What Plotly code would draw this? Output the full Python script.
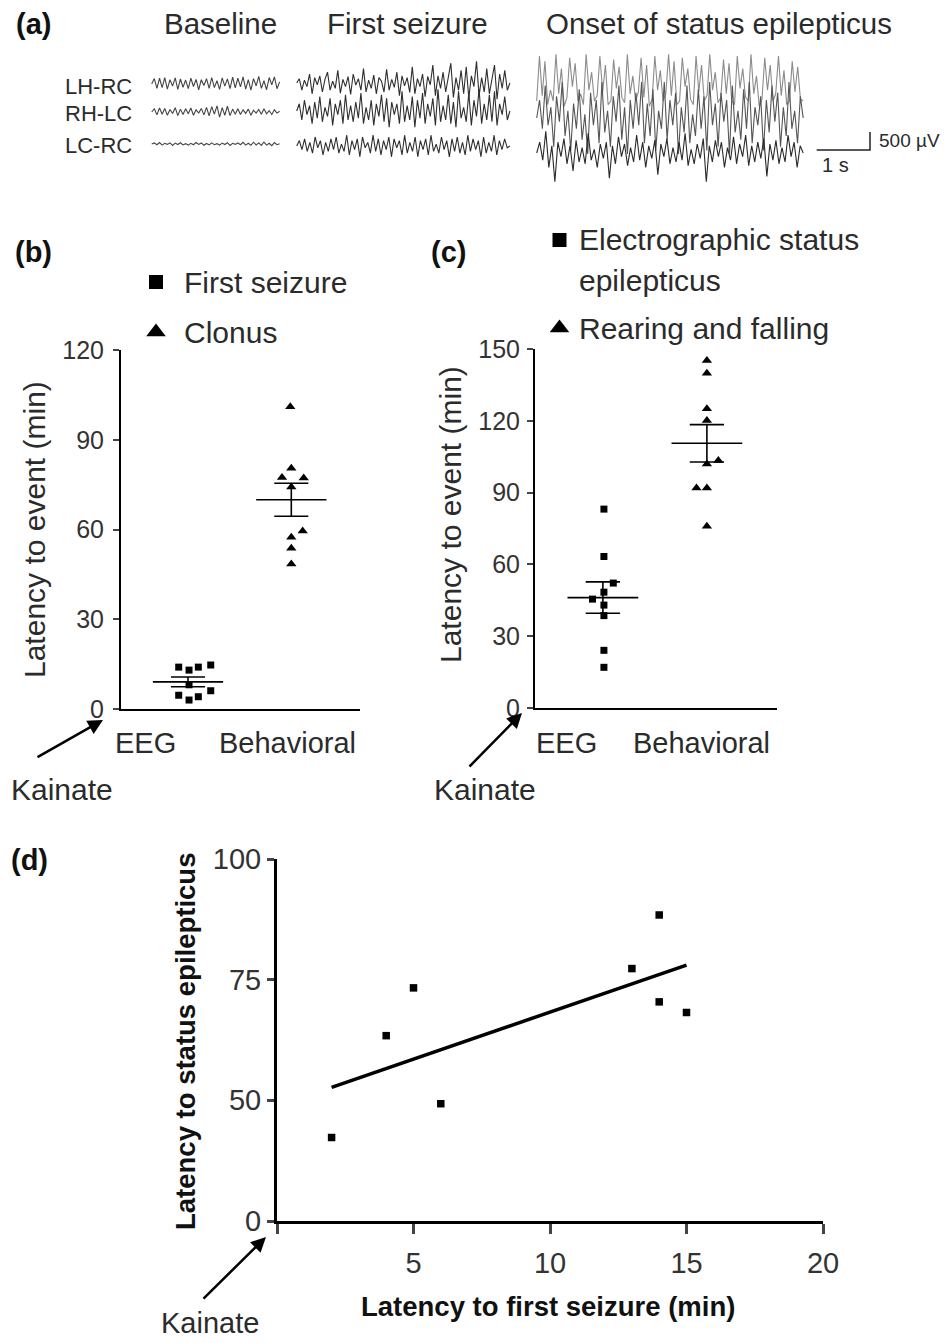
import numpy as np
import plotly.graph_objects as go

W, H = 949, 1343
FONT = "Liberation Sans, Arial, sans-serif"
TXT = "#2b2b2b"

# ---------------- Panel (a): EEG samples, microvolts ----------------
channels = ["LH-RC", "RH-LC", "LC-RC"]
segment_titles = ["Baseline", "First seizure", "Onset of status epilepticus"]

base_lhrc = [0, 150, -120, 160, -100, 180, -140, 120, -60, 170, -150, 140, -90, 110, -130, 160, -70, 130,
             -160, 120, -40, 150, -120, 180, -100, 90, -150, 170, -60, 140, -130, 190, -110, 160, -80, 200,
             -140, 120, -170, 150, -50, 210, -120, 90, -160, 180, -20, 200, -130, 60]
base_rhlc = [0, 90, -80, 110, -60, 100, -90, 70, -40, 120, -100, 80, -70, 90, -50, 110, -90, 60, -30, 100,
             -80, 130, -110, 150, -60, 170, -140, 120, -90, 160, -100, 80, -60, 90, -70, 60, -40, 80, -90, 50,
             -30, 70, -60, 90, -50, 40, -70, 60, -30, 20]
base_lcrc = [0, 30, -20, 40, -30, 20, -10, 30, -40, 25, -15, 35, -25, 10, -30, 20, -20, 40, -10, 30, -35, 15,
             -25, 30, -20, 10, -30, 25, -15, 35, -40, 20, -10, 30, -20, 45, -30, 20, -35, 50, -25, 30, -40, 55,
             -30, 20, -45, 40, -20, 10]

sz_lhrc = [0, 120, -200, 80, -100, 250, -300, 150, -50, 200, -250, 100, 300, -200, 50, -150, 350, -280, 100,
           -100, 180, -320, 250, -60, 120, -200, 400, -250, 80, -150, 220, -300, 150, 50, -250, 380, -200, 100,
           -120, 300, -350, 200, -80, 150, -260, 450, -300, 120, -100, 250, -380, 180, -50, 500, -350, 200,
           -150, 300, -250, 100, 550, -400, 150, -200, 350, -300, 450, -420, 200, -100, 600, -350, 150, -250,
           400, -300, 100, 500, -450, 250, -150, 350, -200, 0]
sz_rhlc = [0, 200, -250, 300, -100, 150, -350, 250, -200, 400, -300, 100, -150, 350, -400, 200, -100, 300,
           -350, 450, -250, 150, -300, 250, -200, 500, -350, 100, -250, 300, -400, 200, -150, 450, -300, 350,
           -450, 250, -100, 200, -350, 550, -300, 150, -250, 400, -450, 300, -200, 500, -350, 200, -150, 350,
           -400, 600, -300, 150, -250, 450, -350, 250, -450, 550, -200, 100, -300, 500, -400, 300, -150, 600,
           -350, 200, -250, 450, -300, 550, -400, 200, -100, 400, -250, 0]
sz_lcrc = [0, 150, -100, 200, -150, 100, -200, 250, -50, 150, -250, 100, -150, 200, -100, 250, -200, 50, -150,
           300, -250, 150, -100, 200, -300, 250, -50, 100, -200, 300, -150, 200, -250, 150, -100, 250, -300,
           200, -50, 150, -250, 300, -200, 100, -150, 250, -300, 150, -100, 200, -250, 300, -150, 50, -200,
           250, -100, 150, -300, 200, -150, 250, -200, 100, -250, 300, -150, 200, -100, 150, -300, 250, -200,
           100, -150, 300, -250, 150, -100, 200, -50, 0]

se_lhrc = [0, 1250, 150, 1100, -100, 300, 0, 1300, 200, 900, -150, 100, 1200, 400, 1050, 0, 200, -100, 1300,
           300, 800, 0, 150, 1250, 250, 1000, -100, 0, 1150, 350, 950, 100, -50, 1300, 200, 700, 0, 250, 1200,
           100, 1000, -150, 50, 1250, 300, 850, 0, 200, 1300, 150, 1100, -100, 0, 1200, 400, 900, 50, -100,
           1250, 250, 1000, 0, 150, 1300, 300, 800, -50, 100, 1150, 200, 1050, 0, -100, 1250, 350, 900, 100, 0,
           1300, 200, 700, -150, 50, 1200, 300, 1000, 0, 200, 1250, 150, 850, -100, 0, 1100, 250, 950, 50, 0]
se_rhlc = [0, 500, -300, 900, -200, 300, -800, 600, -100, 1000, -500, 200, -900, 400, -300, 800, -600, 100,
           -1000, 700, -200, 500, -700, 1000, -400, 200, -800, 600, -100, 900, -600, 300, -1000, 500, -300,
           700, -200, 1000, -700, 400, -500, 800, -900, 200, -300, 1000, -600, 500, -200, 700, -1000, 300,
           -400, 900, -700, 100, -500, 800, -300, 600, -900, 1000, -200, 400, -800, 700, -100, 500, -1000, 900,
           -400, 200, -600, 800, -300, 1000, -700, 300, -200, 600, -900, 500, -400, 900, -100, 700, -800, 300,
           -500, 1000, -300, 200, -700, 600, 0]
se_lcrc = [0, 300, -200, 600, -400, 200, -800, 300, -100, 400, -300, 200, -500, 350, -250, 150, -300, 550,
           -200, 100, -400, 250, -150, 300, -700, 200, -300, 450, -100, 250, -350, 150, -250, 500, -200, 300,
           -400, 200, -150, 350, -600, 250, -100, 400, -300, 150, -250, 300, -200, 550, -350, 100, -300, 250,
           -150, 400, -800, 200, -250, 350, -100, 300, -400, 150, -200, 450, -300, 250, -100, 500, -350, 200,
           -250, 300, -150, 400, -650, 250, -200, 350, -300, 150, -250, 500, -100, 300, -400, 200, 0]

# ---------------- Panel (b) ----------------
b_cats = ["EEG", "Behavioral"]
b_first_seizure = [14.0, 13.0, 14.0, 14.7, 8.1, 6.1, 4.6, 4.1, 3.0]
b_clonus = [101.0, 80.5, 77.4, 77.2, 74.2, 59.5, 57.4, 53.7, 48.5]
b_yticks = [0, 30, 60, 90, 120]

# ---------------- Panel (c) ----------------
c_cats = ["EEG", "Behavioral"]
c_status = [83.1, 63.3, 52.2, 48.4, 45.5, 43.0, 38.6, 24.1, 17.0]
c_rearing = [145.2, 139.9, 125.0, 120.1, 103.4, 102.0, 91.9, 91.9, 75.9]
c_yticks = [0, 30, 60, 90, 120, 150]

# ---------------- Panel (d) ----------------
d_first = [2, 4, 5, 6, 13, 14, 14, 15]
d_status = [42.3, 63.4, 73.3, 49.3, 77.3, 88.4, 70.4, 68.2]
d_xticks = [0, 5, 10, 15, 20]
d_xticktext = ["", "5", "10", "15", "20"]
d_yticks = [25, 50, 75, 100]
d_yticktext = ["0", "50", "75", "100"]

# column-scatter horizontal spread (GraphPad style arrangement)
b_sq_spread = [-0.09, 0.01, 0.10, 0.22, 0.01, 0.22, -0.09, 0.10, 0.01]
b_tri_spread = [-0.01, 0.0, -0.09, 0.12, 0.0, 0.11, 0.0, 0.0, 0.0]
c_sq_spread = [0.01, 0.01, 0.10, 0.01, -0.10, 0.01, 0.01, 0.01, 0.01]
c_tri_spread = [0.0, 0.0, 0.0, 0.0, 0.11, 0.0, -0.10, 0.0, 0.0]


def px(x):
    return x / W


def py(y):
    return 1 - y / H


fig = go.Figure()

# ---------- panel (a) traces ----------
PX_PER_S = 53.3
UV_PER_PX = 500 / 18.0


def row(ypx):
    return -(ypx - 40) * UV_PER_PX


segments = [
    (151.7 / PX_PER_S, 2.4, [base_lhrc, base_rhlc, base_lcrc], [84, 112, 144], ["#444444", "#444444", "#444444"]),
    (296.7 / PX_PER_S, 4.0, [sz_lhrc, sz_rhlc, sz_lcrc], [83, 111, 146], ["#2f2f2f", "#2f2f2f", "#2f2f2f"]),
    (536.7 / PX_PER_S, 5.0, [se_lhrc, se_rhlc, se_lcrc], [101, 118, 153], ["#8c8c8c", "#555555", "#2a2a2a"]),
]
for start, dur, traces, rows, cols in segments:
    for vals, r, col in zip(traces, rows, cols):
        t = np.linspace(start, start + dur, len(vals))
        fig.add_trace(go.Scatter(x=t, y=np.array(vals) + row(r), mode="lines",
                                 line=dict(color=col, width=1.1), xaxis="x4", yaxis="y4",
                                 showlegend=False, hoverinfo="skip"))
# scale bar 1 s / 500 uV
sb_x0 = 816.7 / PX_PER_S
fig.add_trace(go.Scatter(x=[sb_x0, sb_x0 + 1, sb_x0 + 1], y=[row(150), row(150), row(150) + 500],
                         mode="lines", line=dict(color="#222", width=1.5), xaxis="x4", yaxis="y4",
                         showlegend=False, hoverinfo="skip"))


# ---------- column scatter panels ----------
def column_panel(xa, ya, sq, tri, sq_spread, tri_spread):
    fig.add_trace(go.Scatter(x=[0 + s for s in sq_spread], y=sq, mode="markers",
                             marker=dict(symbol="square", size=7, color="black"),
                             xaxis=xa, yaxis=ya, showlegend=False))
    fig.add_trace(go.Scatter(x=[1 + s for s in tri_spread], y=tri, mode="markers",
                             marker=dict(symbol="triangle-up", size=9, color="black"),
                             xaxis=xa, yaxis=ya, showlegend=False))
    for cx, vals in ((0, sq), (1, tri)):
        a = np.array(vals)
        m = a.mean()
        se = a.std(ddof=1) / np.sqrt(len(a))
        for xs, ys in (([cx - 0.34, cx + 0.34], [m, m]),
                       ([cx - 0.165, cx + 0.165], [m + se, m + se]),
                       ([cx - 0.165, cx + 0.165], [m - se, m - se]),
                       ([cx, cx], [m - se, m + se])):
            fig.add_trace(go.Scatter(x=xs, y=ys, mode="lines", line=dict(color="black", width=1.6),
                                     xaxis=xa, yaxis=ya, showlegend=False, hoverinfo="skip"))


column_panel("x", "y", b_first_seizure, b_clonus, b_sq_spread, b_tri_spread)
column_panel("x2", "y2", c_status, c_rearing, c_sq_spread, c_tri_spread)

# ---------- panel (d) ----------
fig.add_trace(go.Scatter(x=d_first, y=d_status, mode="markers",
                         marker=dict(symbol="square", size=7.5, color="black"),
                         xaxis="x3", yaxis="y3", showlegend=False))
k, b0 = np.polyfit(d_first, d_status, 1)
xr = np.array([min(d_first), max(d_first)])
fig.add_trace(go.Scatter(x=xr, y=k * xr + b0, mode="lines", line=dict(color="black", width=3.5),
                         xaxis="x3", yaxis="y3", showlegend=False, hoverinfo="skip"))

# ---------- legend markers (overlay, pixel space) ----------
for (lx, ly, sym, s) in [(156, 282, "square", 14), (156, 332, "triangle-up", 17),
                         (559.5, 240, "square", 14), (559.5, 328, "triangle-up", 17)]:
    fig.add_trace(go.Scatter(x=[lx], y=[ly], mode="markers", marker=dict(symbol=sym, size=s, color="black"),
                             xaxis="x5", yaxis="y5", showlegend=False, hoverinfo="skip"))

tickfont_bc = dict(family=FONT, size=25, color="#333")
tickfont_d = dict(family=FONT, size=29, color="#333")
ax_common = dict(showgrid=False, zeroline=False, showline=True, linecolor="black", mirror=False,
                 automargin=False)
hidden = dict(visible=False, automargin=False, showgrid=False, zeroline=False)

fig.update_layout(
    width=W, height=H, margin=dict(l=0, r=0, t=0, b=0, pad=0, autoexpand=False),
    paper_bgcolor="white", plot_bgcolor="rgba(0,0,0,0)", showlegend=False,
    xaxis=dict(domain=[px(121), px(360)], range=[-0.6486, 1.665], showticklabels=False, ticks="",
               linewidth=2, anchor="y", **ax_common),
    yaxis=dict(domain=[py(709), py(350)], range=[0, 120], tickvals=b_yticks, ticks="outside", ticklen=6,
               tickwidth=2, linewidth=2, tickfont=tickfont_bc, anchor="x", ticklabelstandoff=4, **ax_common),
    xaxis2=dict(domain=[px(535), px(777)], range=[-0.6526, 1.674], showticklabels=False, ticks="",
                linewidth=2, anchor="y2", **ax_common),
    yaxis2=dict(domain=[py(708), py(349)], range=[0, 150], tickvals=c_yticks, ticks="outside", ticklen=6,
                tickwidth=2, linewidth=2, tickfont=tickfont_bc, anchor="x2", ticklabelstandoff=2, **ax_common),
    xaxis3=dict(domain=[px(277), px(823)], range=[0, 20], tickvals=d_xticks, ticktext=d_xticktext,
                ticks="outside", ticklen=10, tickwidth=2.5, linewidth=3, tickfont=tickfont_d, anchor="y3",
                ticklabelstandoff=4, **ax_common),
    yaxis3=dict(domain=[py(1221), py(859)], range=[25, 100], tickvals=d_yticks, ticktext=d_yticktext,
                ticks="outside", ticklen=7, tickwidth=2.5, linewidth=3, tickfont=tickfont_d, anchor="x3",
                ticklabelstandoff=0, **ax_common),
    xaxis4=dict(domain=[0, 1], range=[0, W / PX_PER_S], anchor="y4", **hidden),
    yaxis4=dict(domain=[py(190), py(40)], range=[-150 * UV_PER_PX, 0], anchor="x4", **hidden),
    xaxis5=dict(domain=[0, 1], range=[0, W], anchor="y5", **hidden),
    yaxis5=dict(domain=[0, 1], range=[H, 0], anchor="x5", **hidden),
)

ann = []


def text(x, y, s, size=28, xanchor="center", bold=False, angle=0, color=TXT):
    ann.append(dict(x=px(x), y=py(y), xref="paper", yref="paper", text=f"<b>{s}</b>" if bold else s,
                    showarrow=False, xanchor=xanchor, yanchor="middle", textangle=angle,
                    font=dict(family=FONT, size=size, color=color)))


# panel labels
text(33, 24, "(a)", size=29, bold=True, color="#111")
text(33, 252, "(b)", size=29, bold=True, color="#111")
text(448, 252, "(c)", size=29, bold=True, color="#111")
text(29, 860, "(d)", size=29, bold=True, color="#111")

# panel a
seg_centers = [220, 407.5, 719]
for cx_, t_ in zip(seg_centers, segment_titles):
    text(cx_, 24, t_, size=29.5)
for ch, yy in zip(channels, [86, 114, 145]):
    text(134, yy, ch, size=22, xanchor="right")
text(877, 141, "500 µV", size=19, xanchor="left")
text(820, 165, "1 s", size=20, xanchor="left")

# legends
text(182, 283, "First seizure", size=30, xanchor="left")
text(182, 332, "Clonus", size=30, xanchor="left")
text(577, 240, "Electrographic status", size=30, xanchor="left")
text(577, 280, "epilepticus", size=30, xanchor="left")
text(577, 328, "Rearing and falling", size=30, xanchor="left")

# axis titles
text(35, 530, "Latency to event (min)", size=30, angle=-90)
text(450, 515, "Latency to event (min)", size=30, angle=-90)
text(185, 1042, "Latency to status epilepticus", size=27.5, angle=-90, bold=True, color="#111")
text(548, 1306, "Latency to first seizure (min)", size=27.5, bold=True, color="#111")

# category labels
text(145, 743, b_cats[0], size=29)
text(287, 743, b_cats[1], size=29)
text(566, 743, c_cats[0], size=29)
text(701, 743, c_cats[1], size=29)

# Kainate
text(62, 789, "Kainate", size=30)
text(485, 789, "Kainate", size=30)
text(210, 1323, "Kainate", size=29)
for hx, hy, tx, ty in [(103, 720, 36, 758), (522, 713, 468, 768), (266, 1237, 202, 1300)]:
    ann.append(dict(x=px(hx), y=py(hy), xref="paper", yref="paper", ax=tx - hx, ay=ty - hy,
                    axref="pixel", ayref="pixel", text="", showarrow=True, arrowhead=2,
                    arrowsize=1.2, arrowwidth=2.5, arrowcolor="black"))

fig.update_layout(annotations=ann)

pin_to_corner = (
    "document.documentElement.style.margin='0';document.body.style.margin='0';"
    "document.body.style.overflow='hidden';"
    "var gd=document.getElementById('{plot_id}');"
    "gd.style.position='absolute';gd.style.left='0px';gd.style.top='0px';"
)
fig.write_html("out.html", config={"displayModeBar": False}, post_script=pin_to_corner)
